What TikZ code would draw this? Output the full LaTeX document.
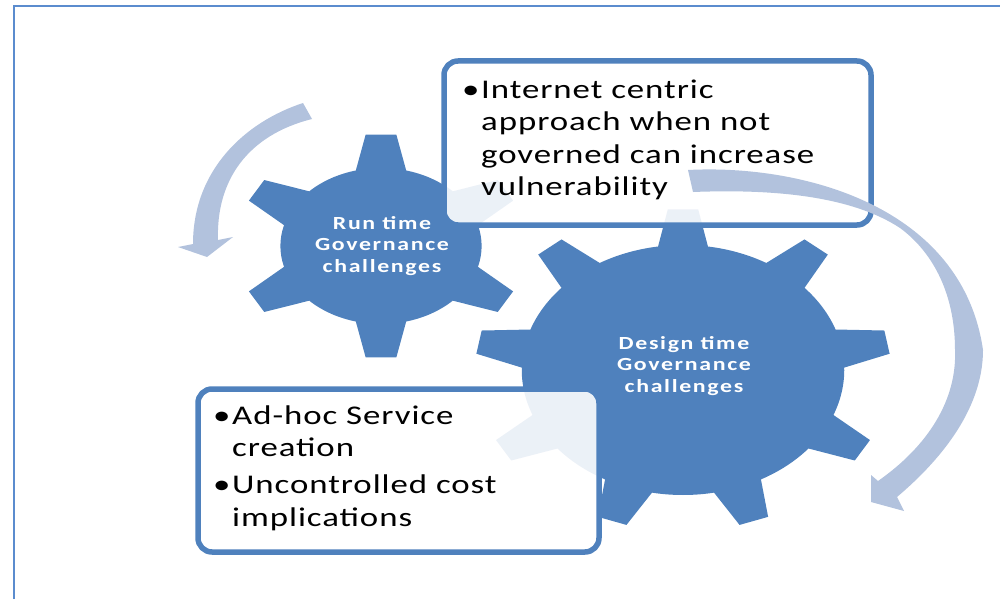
\documentclass[tikz,border=0pt]{standalone}
\usepackage{fontspec}
\setmainfont{Carlito}
\newfontfamily\boxfont[FakeStretch=1.29,LetterSpace=3.5]{Carlito}
\newfontfamily\gearfont[FakeStretch=1.29,LetterSpace=9]{Carlito}
\definecolor{gearblue}{RGB}{79,129,189}
\definecolor{arrowblue}{RGB}{178,194,221}
\definecolor{frameblue}{RGB}{91,140,206}
\tikzset{
  gearshape/.style={fill=gearblue},
  arrowshape/.style={fill=arrowblue},
  callout/.style={draw=gearblue, line width=5.5pt, fill=white, fill opacity=0.89,
    rounded corners=14pt, inner sep=0pt, outer sep=0pt},
  boxtext/.style={font={\boxfont\fontsize{27}{32}\selectfont}, text=black,
    inner sep=0pt, anchor=base west},
  geartext/.style={font={\gearfont\bfseries\fontsize{18.5}{21.5}\selectfont},
    text=white, align=center, inner sep=0pt},
}
% #1 last tooth index, #2 angle step, #3 body radius, #4 tip radius,
% #5 half angle at tooth base, #6 half angle at tooth tip
\newcommand\gearfill[6]{%
  \fill[gearshape] ({-90-#5}:#3)
    \foreach \k [evaluate=\k as \a using -90+#2*\k] in {0,...,#1} {
      -- ({\a-#5}:#3) -- ({\a-#6}:#4) -- ({\a+#6}:#4) -- ({\a+#5}:#3)
      arc[start angle=\a+#5, end angle=\a+#2-#5, radius=#3]
    } -- cycle;}
\begin{document}
\begin{tikzpicture}[x=1pt, y=-1pt]
\useasboundingbox (0,0) rectangle (1000,599);
% frame
\draw[frameblue, line width=2.5pt] (14,599) -- (14,6) -- (1000,6);
% gears
\coordinate (gsmall) at (381,246);
\coordinate (gbig) at (683,370);
\begin{scope}[shift={(gsmall)}, xscale=1.29]
  \gearfill{5}{60}{78}{112}{14.5}{6.1}
\end{scope}
\begin{scope}[shift={(gbig)}, xscale=1.29]
  \gearfill{8}{40}{125}{161}{8.9}{4.2}
\end{scope}
\node[geartext] (runtxt) at (382,246) {Run time\\Governance\\challenges};
\node[geartext] (designtxt) at (684,366) {Design time\\Governance\\challenges};
% left curved arrow
\fill[arrowshape] (303,103) .. controls (245,122) and (193,170) .. (193,244)
  -- (178,247) -- (207,257) -- (233,237) -- (218,240)
  .. controls (216,180) and (248,135) .. (312,119) -- cycle;
% callout boxes
\node[callout, minimum width=427pt, minimum height=164pt] (topbox) at (657.5,143) {};
\node[callout, minimum width=401pt, minimum height=163pt] (botbox) at (398.5,470.5) {};
\node[boxtext] (t1) at (462,99) {\makebox[19pt][l]{•}Internet centric};
\node[boxtext] (t2) at (481,131) {approach when not};
\node[boxtext] (t3) at (481,163) {governed can increase};
\node[boxtext] (t4) at (481,195) {vulnerability};
\node[boxtext] (b1) at (213,424) {\makebox[19pt][l]{•}Ad-hoc Service};
\node[boxtext] (b2) at (232,456) {creation};
\node[boxtext] (b3) at (213,493) {\makebox[19pt][l]{•}Uncontrolled cost};
\node[boxtext] (b4) at (232,526) {implications};
% right curved arrow
\fill[arrowshape] (688,170) .. controls (800,164) and (962,205) .. (983,350)
  .. controls (983,412) and (936,464) .. (897,497)
  -- (904,511) -- (871,502) -- (871,475) -- (878,481)
  .. controls (928,446) and (957,400) .. (955,350)
  .. controls (955,290) and (930,250) .. (900,228)
  .. controls (850,195) and (770,189) .. (693,192) -- cycle;
\end{tikzpicture}
\end{document}
